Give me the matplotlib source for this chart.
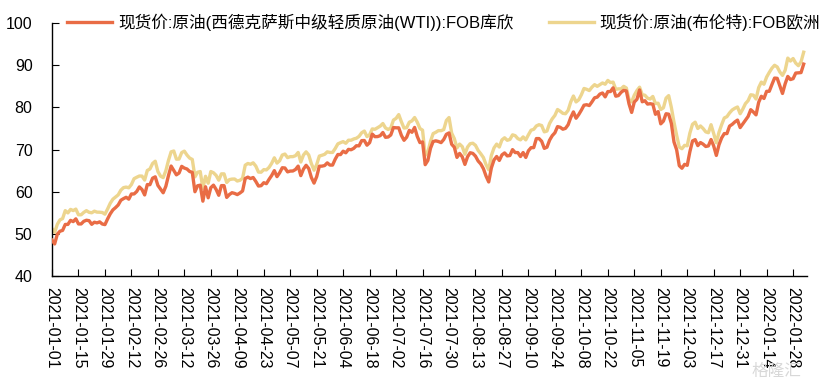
import pandas as pd
import matplotlib
matplotlib.use("Agg")
import matplotlib.pyplot as plt

plt.rcParams['font.family'] = ['Liberation Sans', 'Noto Sans CJK SC', 'DejaVu Sans']

# --- data: daily spot prices, USD/bbl (business days) ---
wti_2021_01 = [48.52, 47.62, 49.93, 50.63, 50.83, 52.24, 52.25, 53.21, 52.91, 53.57, 52.36,
               52.36, 52.98, 53.24, 53.13, 52.27, 52.77, 52.61, 52.85, 52.34, 52.20]
wti_2021_02 = [53.55, 54.76, 55.69, 56.23, 56.85, 57.97, 58.36, 58.68, 58.24, 59.47,
               59.47, 60.05, 61.14, 60.52, 59.24, 61.70, 61.67, 63.22, 63.53, 61.50]
wti_2021_03 = [60.64, 59.75, 61.28, 63.83, 66.09, 65.05, 64.01, 64.44, 66.02, 65.61, 65.39, 64.80,
               64.60, 60.00, 61.42, 61.55, 57.76, 61.18, 58.56, 60.97, 61.56, 60.55, 59.16]
wti_2021_04 = [61.45, 61.45, 58.65, 59.33, 59.77, 59.60, 59.32, 59.70, 60.18, 63.15, 63.46,
               63.13, 63.38, 62.44, 61.35, 61.43, 62.14, 61.91, 62.94, 63.86, 65.01, 63.58]
wti_2021_05 = [64.49, 65.69, 65.63, 64.71, 64.90, 64.92, 65.28, 66.08, 63.82, 65.37, 66.27,
               65.49, 63.36, 62.05, 63.58, 66.05, 66.07, 66.21, 66.85, 66.32, 66.32]
wti_2021_06 = [67.72, 68.83, 68.81, 69.62, 69.23, 70.05, 69.96, 70.29, 70.91, 70.88, 72.12,
               72.15, 71.04, 71.64, 73.66, 73.06, 73.08, 73.30, 74.05, 72.91, 72.98, 73.47]
wti_2021_07 = [75.23, 75.16, 75.16, 73.37, 72.20, 72.94, 74.56, 74.10, 75.25, 73.13, 71.65,
               71.81, 66.42, 67.42, 70.30, 71.91, 72.07, 71.91, 71.65, 72.39, 73.62, 73.95]
wti_2021_08 = [71.26, 70.56, 68.15, 69.09, 68.28, 66.48, 68.29, 69.25, 69.09, 68.44, 67.29,
               66.59, 65.46, 63.69, 62.32, 65.64, 67.54, 68.36, 67.42, 68.74, 69.21, 68.50]
wti_2021_09 = [68.59, 69.99, 69.29, 69.29, 68.35, 69.30, 68.14, 69.72, 70.45, 70.46, 72.61,
               72.61, 71.97, 70.29, 70.56, 72.23, 73.30, 73.98, 75.45, 75.29, 74.83, 75.03]
wti_2021_10 = [75.88, 77.62, 78.93, 77.43, 78.30, 79.35, 80.52, 80.64, 80.44, 81.31, 82.28,
               82.44, 83.16, 83.42, 82.50, 83.76, 83.76, 84.65, 82.66, 82.81, 83.57]
wti_2021_11 = [84.05, 83.91, 80.86, 78.81, 81.27, 81.93, 84.15, 81.34, 81.59, 80.79, 80.88,
               80.76, 78.36, 79.01, 76.10, 76.75, 78.50, 78.39, 76.20, 71.80, 69.95, 66.18]
wti_2021_12 = [65.57, 66.50, 66.26, 69.49, 72.05, 72.36, 70.94, 71.67, 71.29, 70.73, 70.87, 72.38,
               70.86, 68.61, 71.12, 72.76, 73.79, 73.79, 75.57, 75.98, 76.56, 76.99, 75.21]
wti_2022_01 = [76.08, 76.99, 77.85, 79.46, 78.90, 78.23, 81.22, 82.64, 82.12, 83.82, 83.82,
               85.43, 86.96, 86.90, 85.14, 83.31, 85.60, 87.35, 86.61, 86.82, 88.15]
wti_2022_02 = [88.20, 88.26, 90.27]

brent_2021_01 = [51.22, 50.37, 52.26, 53.32, 53.63, 55.52, 54.98, 55.81, 55.53, 55.88, 54.53,
                 54.53, 55.10, 55.51, 55.12, 55.00, 55.39, 55.16, 55.14, 55.07, 54.68]
brent_2021_02 = [55.90, 57.27, 58.23, 58.75, 59.25, 60.36, 60.97, 61.10, 60.93, 61.71,
                 63.10, 63.43, 63.73, 63.71, 62.77, 65.04, 65.40, 66.70, 67.24, 64.79]
brent_2021_03 = [63.70, 63.35, 64.97, 67.43, 69.46, 69.66, 67.72, 67.75, 69.29, 69.63, 68.69, 67.98,
                 67.66, 63.52, 64.62, 64.79, 60.79, 63.66, 62.02, 64.79, 64.50, 63.88, 62.74]
brent_2021_04 = [64.24, 64.24, 62.19, 62.87, 63.00, 63.02, 62.54, 62.71, 63.19, 66.30, 66.70,
                 66.52, 66.86, 66.08, 64.66, 64.63, 65.24, 65.18, 65.77, 66.74, 68.05, 66.79]
brent_2021_05 = [67.35, 68.70, 68.94, 68.09, 68.32, 68.32, 68.55, 69.32, 67.05, 68.71, 69.46,
                 68.71, 66.66, 65.11, 66.44, 68.46, 68.65, 68.87, 69.46, 69.32, 69.32]
brent_2021_06 = [70.25, 71.35, 71.64, 71.89, 71.49, 72.22, 72.22, 72.52, 72.69, 73.13, 73.99,
                 74.39, 73.08, 73.51, 74.90, 74.81, 75.19, 75.56, 76.18, 75.13, 74.76, 75.13]
brent_2021_07 = [77.00, 77.40, 78.30, 76.60, 75.10, 75.20, 76.50, 76.80, 77.60, 76.50, 75.00,
                 74.60, 68.62, 69.35, 71.97, 73.79, 74.10, 74.50, 74.48, 74.74, 76.90, 77.60]
brent_2021_08 = [73.90, 72.60, 70.40, 71.30, 70.70, 68.90, 70.60, 71.40, 71.50, 71.00, 69.80,
                 69.00, 68.10, 66.40, 65.20, 68.60, 70.40, 71.30, 70.60, 72.30, 72.80, 72.20]
brent_2021_09 = [72.40, 73.50, 73.30, 72.60, 72.30, 73.00, 72.30, 73.50, 74.60, 74.80, 75.60,
                 75.90, 75.70, 74.20, 74.40, 76.20, 77.30, 78.10, 79.50, 79.10, 78.60, 78.50]
brent_2021_10 = [79.30, 81.30, 82.70, 81.30, 81.80, 83.00, 84.50, 84.30, 84.00, 84.80, 85.40,
                 85.00, 85.40, 85.80, 85.50, 86.40, 85.90, 86.00, 84.30, 84.40, 84.40]
brent_2021_11 = [85.00, 84.60, 81.90, 81.30, 82.90, 84.00, 84.80, 83.00, 82.90, 82.20, 82.00,
                 82.60, 80.90, 81.00, 79.50, 79.90, 82.20, 82.80, 80.00, 76.50, 73.40, 70.60]
brent_2021_12 = [70.20, 71.00, 70.90, 73.90, 76.00, 76.50, 75.00, 75.60, 75.00, 74.20, 74.00, 75.90,
                 73.80, 71.60, 74.10, 75.90, 77.50, 77.80, 78.70, 79.40, 79.80, 80.10, 78.50]
brent_2022_01 = [79.60, 80.90, 81.60, 83.00, 82.90, 82.00, 84.70, 86.00, 85.50, 87.20, 88.30,
                 89.30, 90.00, 89.60, 88.40, 87.60, 88.80, 91.70, 91.00, 91.60, 90.50]
brent_2022_02 = [89.90, 90.80, 93.10]

wti = (wti_2021_01 + wti_2021_02 + wti_2021_03 + wti_2021_04 + wti_2021_05 + wti_2021_06
       + wti_2021_07 + wti_2021_08 + wti_2021_09 + wti_2021_10 + wti_2021_11 + wti_2021_12
       + wti_2022_01 + wti_2022_02)
brent = (brent_2021_01 + brent_2021_02 + brent_2021_03 + brent_2021_04 + brent_2021_05
         + brent_2021_06 + brent_2021_07 + brent_2021_08 + brent_2021_09 + brent_2021_10
         + brent_2021_11 + brent_2021_12 + brent_2022_01 + brent_2022_02)

dates = pd.bdate_range('2021-01-01', periods=len(wti))
label_wti = '现货价:原油(西德克萨斯中级轻质原油(WTI)):FOB库欣'
label_brent = '现货价:原油(布伦特):FOB欧洲'

# --- plot ---
fig = plt.figure(figsize=(8.39, 3.85), dpi=100)
ax = fig.add_axes([0.062, 0.283, 0.900, 0.657])

x = list(range(len(wti)))
l_wti, = ax.plot(x, wti, color='#E96C45', lw=2.4, zorder=3, label=label_wti)
l_brent, = ax.plot(x, brent, color='#EDD58E', lw=2.4, zorder=2, label=label_brent)

ax.set_ylim(40, 100)
ax.set_yticks(range(40, 101, 10))
ax.set_xlim(0, 285.3)
tick_pos = list(range(0, len(wti), 10))
ax.set_xticks(tick_pos)
ax.set_xticklabels([dates[i].strftime('%Y-%m-%d') for i in tick_pos], rotation=-90)

for s in ['top', 'right']:
    ax.spines[s].set_visible(False)
for s in ['left', 'bottom']:
    ax.spines[s].set_linewidth(1.0)
ax.tick_params(axis='y', direction='in', length=5, pad=14, labelsize=11.5)
ax.tick_params(axis='x', direction='in', length=5, pad=8, labelsize=11.5)

fig.legend(handles=[l_wti, l_brent], loc='center', bbox_to_anchor=(0.529, 0.943),
           ncol=2, frameon=False, fontsize=12, handlelength=2.7, handletextpad=0.35,
           columnspacing=2.1, borderaxespad=0)

# faint watermark
fig.text(0.955, 0.035, '格隆汇', color='#d8d8d8', fontsize=12, ha='right', va='center')

fig.savefig('out.png', dpi=100)
